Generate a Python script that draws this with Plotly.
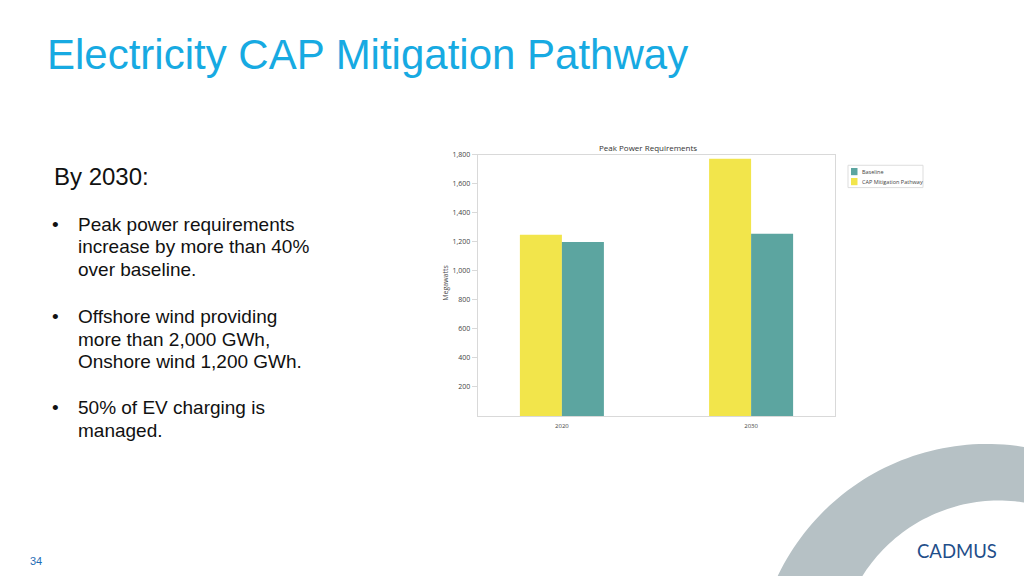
import numpy as np
import plotly.graph_objects as go

# ---------------- data ----------------
years = ["2020", "2030"]
cap_pathway = [1248, 1772]
baseline = [1198, 1255]
series_names = ["Baseline", "CAP Mitigation Pathway"]
y_ticks = [200, 400, 600, 800, 1000, 1200, 1400, 1600, 1800]

slide_title = "Electricity CAP Mitigation Pathway"
chart_title = "Peak Power Requirements"
y_title = "Megawatts"
intro = "By 2030:"
bullets = [
    ["Peak power requirements", "increase by more than 40%", "over baseline."],
    ["Offshore wind providing", "more than 2,000 GWh,", "Onshore wind 1,200 GWh."],
    ["50% of EV charging is", "managed."],
]
page_no = "34"
logo = "CADMUS"

# ---------------- styling ----------------
W, H = 1024, 576
YELLOW = "#F2E54B"
TEAL = "#5CA5A0"
AXIS = "#D9D9D9"
CHART_TXT = "#444444"

# small vertical calibration (observed offset of the rendered page)
VY_SCALE, VY_OFF = 1.0101, -5.7


def px(x):
    return x / W


def py(y):
    return 1 - (y * VY_SCALE + VY_OFF) / H


fig = go.Figure()
fig.add_trace(go.Bar(x=years, y=cap_pathway, name=series_names[1],
                     marker=dict(color=YELLOW, line=dict(width=0)), showlegend=False))
fig.add_trace(go.Bar(x=years, y=baseline, name=series_names[0],
                     marker=dict(color=TEAL, line=dict(width=0)), showlegend=False))

x0, x1 = 477.7, 835.3
y0, y1 = 155, 416

fig.update_layout(
    width=W, height=H, autosize=False,
    margin=dict(l=0, r=0, t=0, b=0, pad=0),
    paper_bgcolor="white", plot_bgcolor="white",
    barmode="group", bargap=0.556, bargroupgap=0,
    xaxis=dict(domain=[px(x0), px(x1)], range=[-0.445, 1.445], type="category",
               showline=True, linecolor=AXIS, linewidth=1, mirror=True,
               showgrid=False, zeroline=False, ticks="", ticklabelstandoff=4,
               tickfont=dict(family="Open Sans", size=6, color=CHART_TXT)),
    yaxis=dict(domain=[py(y1), py(y0)], range=[0, 1800],
               tickvals=y_ticks, tickformat=",",
               showline=True, linecolor=AXIS, linewidth=1, mirror=True,
               ticks="outside", ticklen=5, tickcolor=AXIS, tickwidth=1,
               showgrid=False, zeroline=False,
               tickfont=dict(family="Open Sans", size=7, color=CHART_TXT)),
    showlegend=False,
)

ann = []
# slide title
ann.append(dict(text=slide_title, x=px(45), y=py(55), xanchor="left", yanchor="middle",
                font=dict(family="Liberation Sans", size=42, color="#17AAE2")))
# intro
ann.append(dict(text=intro, x=px(52), y=py(177), xanchor="left", yanchor="middle",
                font=dict(family="Liberation Sans", size=24, color="#111111")))
# bullets
starts = [225, 317, 408]
for start, lines in zip(starts, bullets):
    ann.append(dict(text="•", x=px(55), y=py(start), xanchor="center", yanchor="middle",
                    font=dict(family="Liberation Sans", size=19, color="#111111")))
    for i, line in enumerate(lines):
        ann.append(dict(text=line, x=px(75.5), y=py(start + i * 22.3), xanchor="left",
                        yanchor="middle",
                        font=dict(family="Liberation Sans", size=19, color="#111111")))
# chart title
ann.append(dict(text=chart_title, x=px(648), y=py(148), xanchor="center", yanchor="middle",
                font=dict(family="Open Sans", size=8, color="#333333")))
# y axis title
ann.append(dict(text=y_title, x=px(446), y=py(283), xanchor="center", yanchor="middle",
                textangle=-90, font=dict(family="Open Sans", size=7, color=CHART_TXT)))
# legend (manual)
leg_colors = [TEAL, YELLOW]
leg_y = [172, 182]
shapes = []
shapes.append(dict(type="rect", xref="paper", yref="paper",
                   x0=px(848), x1=px(923), y0=py(188), y1=py(165.7),
                   line=dict(color="#DDDDDD", width=1), fillcolor="white"))
for name, col, yy in zip(series_names, leg_colors, leg_y):
    shapes.append(dict(type="rect", xref="paper", yref="paper",
                       x0=px(851), x1=px(857.5), y0=py(yy + 3.6), y1=py(yy - 3.6),
                       line=dict(width=0), fillcolor=col))
    ann.append(dict(text=name, x=px(859.5), y=py(yy), xanchor="left", yanchor="middle",
                    font=dict(family="Open Sans", size=5.5, color=CHART_TXT)))
# page number and logo
ann.append(dict(text=page_no, x=px(36), y=py(561), xanchor="center", yanchor="middle",
                font=dict(family="Liberation Sans", size=11, color="#1F6DB5")))
ann.append(dict(text=logo, x=px(956.5), y=py(551), xanchor="center", yanchor="middle",
                font=dict(family="Lato", size=18.5, color="#1F4E8A")))

for a in ann:
    a.update(xref="paper", yref="paper", showarrow=False)

# decorative arc (bottom right)
to = np.radians(np.linspace(-180, -60, 80))
ti = to[::-1]
ocx, ocy, oR = 987, 676, 232
icx, icy, iR = 999, 662, 161.5
xs = list(ocx + oR * np.cos(to)) + list(icx + iR * np.cos(ti))
ys = list(ocy + oR * np.sin(to)) + list(icy + iR * np.sin(ti))
path = "M" + " L".join(f"{px(a):.5f},{py(b):.5f}" for a, b in zip(xs, ys)) + " Z"
shapes.append(dict(type="path", xref="paper", yref="paper", path=path,
                   fillcolor="#B6C1C5", line=dict(width=0), layer="below"))

fig.update_layout(annotations=ann, shapes=shapes)

fig.write_html(
    "out.html",
    config={"displayModeBar": False},
    post_script=(
        "document.documentElement.style.margin='0';"
        "document.body.style.margin='0';"
        "document.body.style.overflow='hidden';"
    ),
)
